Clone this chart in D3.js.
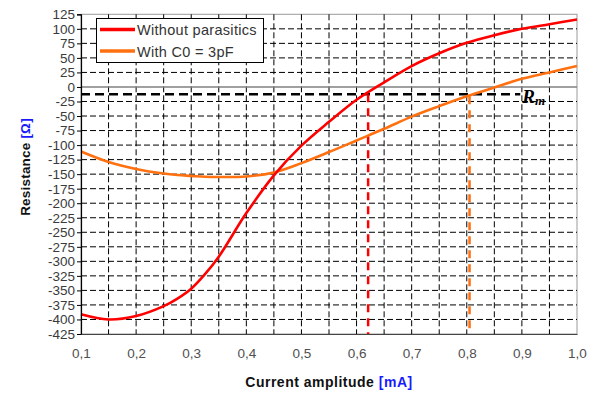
<!DOCTYPE html>
<html><head><meta charset="utf-8">
<script src="https://cdn.jsdelivr.net/npm/d3@7"></script>
<style>
html,body{margin:0;padding:0;background:#fff;}
svg{display:block;font-family:Arial,"Liberation Sans",sans-serif;}
</style></head>
<body><svg id="c" width="595" height="394"></svg>
<script>
// ---- data ----
const currents = [0.10,0.15,0.20,0.25,0.275,0.30,0.325,0.35,0.40,0.45,0.50,0.55,0.60,0.65,0.70,0.75,0.80,0.85,0.90,0.95,1.00];
const withoutParasitics = [-391,-400,-394,-377,-364,-347,-322,-292,-217,-152,-101,-60,-22,8,36,58,76,89,100,108,116];
const withC0 = [-111,-129,-141,-149,-151.5,-153,-154.5,-155,-154,-147,-131,-112,-92,-72,-51,-33,-16,-1,14,25,36];
const seriesNames = ["Without parasitics","With C0 = 3pF"];
const seriesColors = ["#ff0000","#ff7010"];
const rmValue = -12.5;
const rmLineEnd = 0.897;
const rmCrossings = [0.621, 0.805];
const rmCrossValues = [-12.5, -16];
const xTicks = [0.1,0.2,0.3,0.4,0.5,0.6,0.7,0.8,0.9,1.0];
const xTickLabels = ["0,1","0,2","0,3","0,4","0,5","0,6","0,7","0,8","0,9","1,0"];
const xGrid = [0.15,0.2,0.25,0.3,0.35,0.4,0.45,0.5,0.55,0.6,0.65,0.7,0.75,0.8,0.85,0.9,0.95];
const yTicks = [125,100,75,50,25,0,-25,-50,-75,-100,-125,-150,-175,-200,-225,-250,-275,-300,-325,-350,-375,-400,-425];

const svg = d3.select("#c");
const L=81, R=577, T=14.3, B=334;
const x = d3.scaleLinear().domain([0.1,1.0]).range([L,R]);
const y = d3.scaleLinear().domain([-425,125]).range([B,T]);

// plot border
svg.append("rect").attr("x",L).attr("y",T).attr("width",R-L).attr("height",B-T)
  .attr("fill","#fff").attr("stroke","#9a9a9a").attr("stroke-width",1);

// gridlines
const g = svg.append("g");
g.selectAll("line.v").data(xGrid).join("line")
  .attr("x1",d=>x(d)).attr("x2",d=>x(d)).attr("y1",T).attr("y2",B)
  .attr("stroke","#000").attr("stroke-width",1).attr("stroke-dasharray","6,3");
g.selectAll("line.h").data(yTicks.filter(d=>d!==0 && d!==125 && d!==-425)).join("line")
  .attr("x1",L).attr("x2",R).attr("y1",d=>y(d)).attr("y2",d=>y(d))
  .attr("stroke","#000").attr("stroke-width",1).attr("stroke-dasharray","6,3");
// zero line
svg.append("line").attr("x1",L).attr("x2",R).attr("y1",y(0)).attr("y2",y(0))
  .attr("stroke","#808080").attr("stroke-width",1.5);

// Rm line
svg.append("line").attr("x1",L).attr("x2",x(rmLineEnd)).attr("y1",y(rmValue)).attr("y2",y(rmValue))
  .attr("stroke","#000").attr("stroke-width",2.5).attr("stroke-dasharray","9,5");
const rm = svg.append("text").attr("x",x(rmLineEnd)+2).attr("y",y(rmValue)+8.5)
  .attr("font-family","'Liberation Serif','Times New Roman',serif").attr("font-style","italic")
  .attr("font-weight","bold").attr("font-size",19).attr("fill","#000");
rm.append("tspan").text("R");
rm.append("tspan").attr("font-size",13).attr("dy",2).text("m");

// vertical crossing lines
const series = [withoutParasitics, withC0];
rmCrossings.forEach((c,i)=>{
  svg.append("line").attr("x1",x(c)).attr("x2",x(c)).attr("y1",y(rmCrossValues[i])).attr("y2",B)
    .attr("stroke",seriesColors[i]).attr("stroke-width",2.5).attr("stroke-dasharray","8,6");
});

// curves
const line = d3.line().x(d=>x(d[0])).y(d=>y(d[1])).curve(d3.curveCatmullRom.alpha(0.5));
series.slice().reverse().forEach((s,ri)=>{
  const i = series.length-1-ri;
  svg.append("path").datum(currents.map((c,k)=>[c,s[k]]))
    .attr("d",line).attr("fill","none").attr("stroke",seriesColors[i]).attr("stroke-width",2.6);
});

// left axis
const ya = svg.append("g").attr("transform",`translate(${L},0)`)
  .call(d3.axisLeft(y).tickValues(yTicks).tickSize(4).tickPadding(2).tickFormat(d=>String(d)));
ya.select(".domain").attr("stroke","#000").attr("stroke-width",1.2);
ya.selectAll(".tick line").attr("stroke","#000");
ya.selectAll(".tick text").attr("font-size",13.5).attr("fill","#3a3a3a")
  .attr("font-family","Arial,'Liberation Sans',sans-serif");

// bottom axis
const xa = svg.append("g").attr("transform",`translate(0,${B})`)
  .call(d3.axisBottom(x).tickValues(xTicks).tickSize(0).tickPadding(14)
    .tickFormat((d,i)=>xTickLabels[i]));
xa.select(".domain").attr("stroke","#444").attr("stroke-width",1.2);
xa.selectAll(".tick text").attr("font-size",13.5).attr("fill","#505050")
  .attr("font-family","Arial,'Liberation Sans',sans-serif");

// axis titles
const xt = svg.append("text").attr("x",329).attr("y",387).attr("text-anchor","middle")
  .attr("font-size",14).attr("font-weight","bold").attr("letter-spacing",0.5);
xt.append("tspan").attr("fill","#111").text("Current amplitude ");
xt.append("tspan").attr("fill","#1a1aff").text("[mA]");
const yt = svg.append("text").attr("transform","translate(30,167) rotate(-90)").attr("text-anchor","middle")
  .attr("font-size",13.5).attr("font-weight","bold").attr("letter-spacing",0.2);
yt.append("tspan").attr("fill","#111").text("Resistance ");
yt.append("tspan").attr("fill","#1a1aff").text("[Ω]");

// legend
const lg = svg.append("g");
lg.append("rect").attr("x",96.5).attr("y",18.5).attr("width",167).attr("height",44)
  .attr("fill","#fff").attr("stroke","#000").attr("stroke-width",1);
seriesNames.forEach((n,i)=>{
  const yy = 29.5 + i*21.5;
  lg.append("line").attr("x1",100).attr("x2",135).attr("y1",yy).attr("y2",yy)
    .attr("stroke",seriesColors[i]).attr("stroke-width",3.5);
  lg.append("text").attr("x",137).attr("y",yy+5.5).attr("font-size",14.5).attr("letter-spacing",0.3)
    .attr("fill","#333").text(n);
});
</script></body></html>
